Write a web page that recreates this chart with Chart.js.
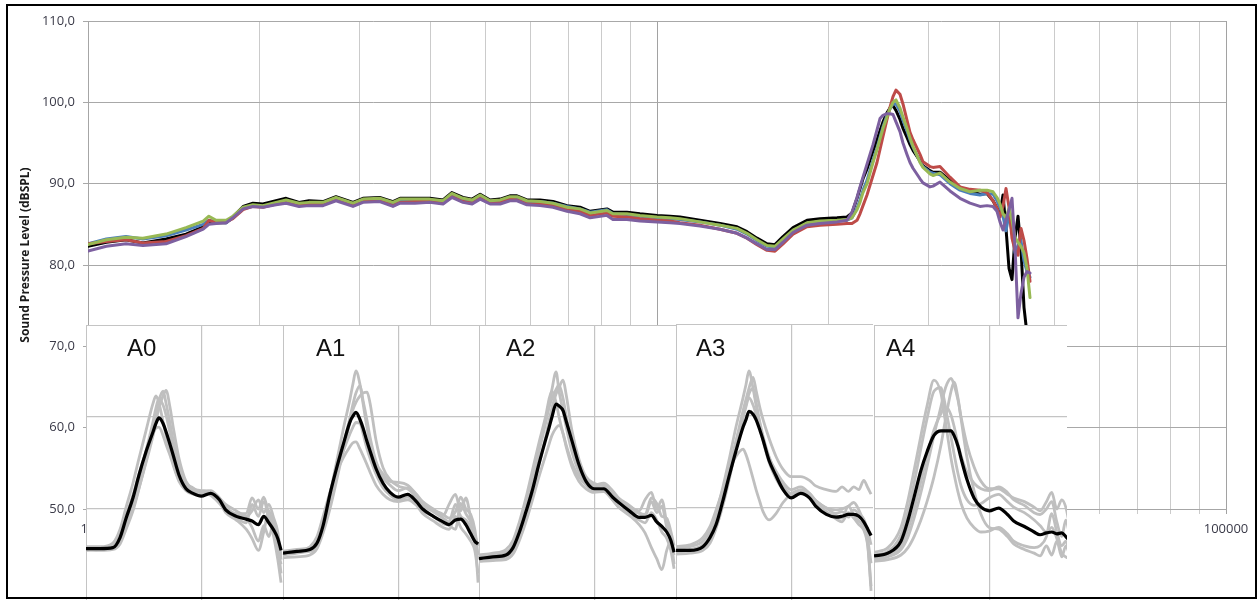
<!DOCTYPE html>
<html>
<head>
<meta charset="utf-8">
<script src="https://cdn.jsdelivr.net/npm/chart.js@4.4.1/dist/chart.umd.min.js"></script>
<style>
  html, body { margin: 0; padding: 0; background: #fff; width: 1259px; height: 600px; overflow: hidden; }
  #main { position: absolute; left: 0; top: 0; }
  .panel { position: absolute; height: 276px; overflow: hidden; background: #fff; }
  .panel canvas { position: absolute; left: 0; top: 0; }
  #frame { position: absolute; left: 6px; top: 4px; width: 1251px; height: 595px; border: 2px solid #000; box-sizing: border-box; pointer-events: none; }
</style>
</head>
<body>
<canvas id="main" width="1259" height="600"></canvas>
<div class="panel" style="left:86px;top:325px;width:197px"><canvas id="p0" width="197" height="276"></canvas></div>
<div class="panel" style="left:283px;top:325px;width:196px"><canvas id="p1" width="197" height="276"></canvas></div>
<div class="panel" style="left:479px;top:325px;width:197px"><canvas id="p2" width="197" height="276"></canvas></div>
<div class="panel" style="left:676px;top:324px;width:198px"><canvas id="p3" width="197" height="276"></canvas></div>
<div class="panel" style="left:874px;top:325px;width:193px"><canvas id="p4" width="197" height="276"></canvas></div>
<div id="frame"></div>
<script>
// ---- Main frequency response (Hz -> dB SPL), five measurements ----
const mainFreq = [
  10, 11.6, 13.6, 15.6, 18.8, 22.1, 25.4, 26.6, 28.2, 30.6,
  32.3, 35.1, 38.0, 41.2, 45.8, 49.7, 55.2, 59.8, 67.0, 74.4,
  85.4, 92.6, 106, 118, 125, 141, 159, 177, 190, 208,
  224, 239, 259, 281, 304, 322, 349, 388, 431, 483,
  536, 582, 667, 700, 784, 871, 1000, 1111, 1204, 1416,
  1665, 1911, 2072, 2246, 2436, 2598, 2773, 3007, 3367, 3741,
  4292, 4654, 4846, 5047, 5171, 5298, 5472, 5744, 5933, 6079,
  6228, 6433, 6591, 6753, 6918, 7146, 7321, 7562, 7750, 7940,
  8403, 8609, 9111, 9335, 9879, 10711, 11614, 12594, 13654, 14452,
  15171, 15670, 16055, 16450, 16854, 17269, 17693, 18128, 18573, 19029,
  19497, 19976, 20467
];
const levelBlack = [
  82.3, 82.8, 83.1, 82.7, 83.2, 83.8, 84.7, 85.4, 85.2, 85.2,
  85.9, 87.2, 87.6, 87.5, 87.9, 88.2, 87.7, 87.9, 87.8, 88.4,
  87.7, 88.2, 88.3, 87.8, 88.2, 88.2, 88.2, 88.0, 88.9, 88.3,
  88.1, 88.7, 88.0, 88.1, 88.5, 88.5, 88.0, 88.0, 87.8, 87.3,
  87.1, 86.6, 86.9, 86.5, 86.5, 86.3, 86.1, 86.0, 85.9, 85.5,
  85.1, 84.7, 84.1, 83.3, 82.6, 82.5, 83.5, 84.6, 85.5, 85.7,
  85.8, 85.9, 86.4, 88.2, 89.4, 90.6, 91.8, 94.0, 95.4, 96.5,
  97.6, 98.7, 99.3, 99.6, 99.0, 97.9, 96.8, 95.7, 94.8, 94.1,
  92.8, 92.2, 91.6, 91.4, 91.4, 90.4, 89.4, 89.0, 88.7, 88.8,
  87.9, 87.0, 86.3, 88.6, 84.5, 79.6, 78.2, 83.3, 86.0, 82.0,
  74.8, 71.5, 68.0
];
const levelBlue = [
  82.6, 83.2, 83.5, 83.2, 83.6, 84.3, 85.0, 85.5, 85.3, 85.2,
  85.8, 86.9, 87.3, 87.2, 87.6, 87.9, 87.5, 87.6, 87.6, 88.1,
  87.5, 88.0, 88.0, 87.6, 87.9, 87.9, 87.9, 87.8, 88.6, 88.0,
  87.9, 88.4, 87.8, 87.9, 88.3, 88.3, 87.8, 87.8, 87.6, 87.2,
  86.9, 86.5, 86.8, 86.3, 86.2, 86.0, 85.8, 85.7, 85.6, 85.3,
  84.9, 84.4, 83.8, 83.0, 82.3, 82.2, 83.1, 84.2, 85.1, 85.3,
  85.4, 85.5, 85.8, 87.0, 88.0, 89.2, 90.4, 92.9, 94.4, 95.7,
  97.0, 98.4, 99.2, 99.8, 99.8, 98.9, 97.8, 96.5, 95.4, 94.5,
  92.7, 92.1, 91.4, 91.3, 91.1, 90.0, 89.2, 88.8, 88.6, 88.8,
  88.7, 87.9, 87.0, 86.0, 84.2, 86.2, 84.0, 81.5, 82.4, 83.0,
  80.5, 79.2, 78.5
];
const levelRed = [
  82.6, 82.9, 83.1, 82.7, 82.9, 83.6, 84.5, 85.5, 85.2, 85.3,
  85.7, 86.8, 87.2, 87.1, 87.5, 87.8, 87.3, 87.5, 87.4, 88.0,
  87.3, 87.8, 87.9, 87.3, 87.7, 87.8, 87.8, 87.6, 88.4, 87.8,
  87.6, 88.2, 87.6, 87.7, 88.1, 88.0, 87.5, 87.5, 87.3, 86.8,
  86.6, 86.1, 86.4, 86.0, 85.9, 85.7, 85.5, 85.4, 85.2, 84.9,
  84.4, 83.9, 83.3, 82.5, 81.8, 81.7, 82.6, 83.8, 84.7, 84.9,
  85.0, 85.1, 85.1, 85.5, 86.3, 87.3, 88.6, 91.0, 92.6, 94.2,
  95.8, 97.9, 99.4, 100.7, 101.5, 101.0, 99.8, 97.8, 96.3, 95.4,
  93.6, 92.7, 92.1, 92.0, 92.1, 90.8, 89.6, 89.3, 89.2, 88.9,
  87.9, 87.0, 85.9, 87.2, 89.4, 87.1, 83.3, 81.8, 81.2, 84.5,
  83.0, 80.8, 78.0
];
const levelGreen = [
  82.5, 83.1, 83.4, 83.3, 83.8, 84.6, 85.4, 86.0, 85.5, 85.5,
  86.0, 87.1, 87.4, 87.3, 87.7, 88.0, 87.6, 87.7, 87.7, 88.3,
  87.6, 88.1, 88.2, 87.7, 88.1, 88.1, 88.1, 87.9, 88.8, 88.2,
  88.0, 88.6, 87.9, 88.0, 88.4, 88.4, 87.9, 87.8, 87.6, 87.1,
  86.9, 86.4, 86.7, 86.3, 86.3, 86.1, 85.9, 85.8, 85.7, 85.3,
  84.9, 84.5, 83.9, 83.1, 82.4, 82.3, 83.2, 84.3, 85.2, 85.4,
  85.5, 85.6, 85.8, 86.8, 87.7, 88.9, 90.0, 92.6, 94.2, 95.5,
  96.8, 98.2, 99.2, 100.0, 100.3, 99.3, 98.2, 96.8, 95.6, 94.6,
  92.6, 92.0, 91.2, 91.0, 91.3, 90.2, 89.4, 89.0, 89.2, 89.2,
  89.0, 88.3, 87.5, 86.3, 85.8, 87.0, 85.5, 83.4, 82.8, 82.3,
  81.5, 79.6, 76.0
];
const levelPurple = [
  81.7, 82.3, 82.6, 82.4, 82.6, 83.5, 84.4, 85.0, 85.1, 85.2,
  85.8, 86.9, 87.2, 87.1, 87.4, 87.6, 87.2, 87.3, 87.3, 87.9,
  87.2, 87.7, 87.8, 87.2, 87.6, 87.6, 87.7, 87.5, 88.3, 87.7,
  87.5, 88.1, 87.5, 87.5, 87.9, 87.9, 87.4, 87.3, 87.1, 86.6,
  86.3, 85.8, 86.1, 85.6, 85.6, 85.4, 85.3, 85.2, 85.1, 84.8,
  84.4, 83.9, 83.3, 82.6, 81.9, 81.9, 82.8, 84.0, 84.9, 85.1,
  85.3, 85.5, 86.5, 88.3, 89.6, 90.8, 92.4, 94.8, 96.6, 98.0,
  98.4, 98.6, 98.6, 98.5, 97.6, 96.4, 95.0, 93.6, 92.6, 91.9,
  90.6, 90.1, 89.6, 89.7, 90.2, 89.1, 88.2, 87.6, 87.2, 87.3,
  87.2, 86.6, 85.3, 84.3, 85.5, 86.8, 88.2, 82.2, 73.5, 76.5,
  78.5, 79.2, 79.0
];

// Axis grid positions and labels
const xGridFreqs = [10, 40, 90, 160, 250, 360, 490, 640, 810, 1000,
                    4000, 9000, 16000, 25000, 36000, 49000, 64000, 81000, 100000];
const xLabelFreqs = [10, 100000];
const yAxisTitle = 'Sound Pressure Level (dBSPL)';

// ---- Insets: 4-19 kHz detail per position, single runs (grey) and mean (black) ----
const insetFreq = [
  3940, 4410, 4900, 5190, 5450, 5760, 6050, 6400, 6780, 6940,
  7110, 7350, 7530, 7780, 7970, 8360, 8850, 9370, 10000, 10800,
  11600, 12200, 13300, 14400, 15100, 15900, 16600, 17300, 18000, 18600,
  19100
];
const insetGridFreqs = [3940, 10000];
const insetGridLevels = [50, 60, 70];
const panelNames = ['A0', 'A1', 'A2', 'A3', 'A4'];

const a0Mean = [45.7, 45.7, 45.8, 46.9, 49.0, 51.2, 53.7, 56.2, 58.4, 59.3, 59.9, 59.3, 58.4, 57.0, 55.9, 53.7, 52.2, 51.7, 51.4, 51.7, 51.0, 49.9, 49.2, 48.9, 48.7, 48.3, 49.2, 48.5, 47.7, 46.8, 45.5];
const a0Runs = [
  [45.5, 45.6, 45.9, 46.5, 48.0, 50.0, 52.3, 55.0, 58.0, 59.5, 61.0, 62.3, 62.9, 61.0, 59.0, 55.5, 53.0, 52.2, 52.0, 51.9, 51.0, 50.2, 49.5, 49.5, 51.2, 50.0, 51.3, 49.5, 48.5, 46.0, 43.0],
  [45.9, 45.9, 46.3, 47.8, 50.2, 52.8, 55.5, 58.5, 61.5, 62.3, 61.5, 59.5, 58.0, 56.3, 55.0, 53.2, 52.3, 52.0, 51.8, 51.5, 50.6, 49.8, 49.0, 48.5, 50.5, 49.2, 50.8, 49.0, 47.0, 44.5, 42.0],
  [45.6, 45.5, 45.6, 46.2, 47.8, 49.8, 52.2, 55.2, 58.5, 60.2, 61.8, 62.8, 61.5, 59.3, 57.5, 54.5, 52.8, 52.3, 51.8, 52.0, 51.2, 50.5, 49.8, 49.0, 48.0, 46.5, 48.2, 47.0, 48.5, 45.5, 44.0],
  [45.8, 45.8, 46.1, 47.2, 49.3, 51.5, 53.8, 56.2, 58.2, 58.8, 58.9, 58.0, 57.0, 55.8, 54.8, 53.0, 52.0, 51.6, 51.5, 51.6, 50.8, 49.6, 48.8, 47.8, 46.8, 45.5, 47.5, 49.8, 47.5, 46.5, 45.0],
  [45.6, 45.7, 45.8, 46.4, 48.4, 50.8, 53.2, 56.3, 59.5, 61.0, 62.0, 61.3, 60.2, 58.2, 56.8, 54.2, 52.6, 52.0, 51.7, 51.8, 51.2, 50.0, 49.4, 49.2, 49.8, 51.0, 49.6, 50.5, 49.0, 47.5, 44.5]
];

const a1Mean = [45.2, 45.4, 45.6, 46.3, 48.2, 51.6, 54.2, 56.9, 59.5, 60.1, 60.5, 59.7, 58.8, 57.3, 56.3, 54.4, 52.8, 51.8, 51.3, 51.6, 50.8, 50.0, 49.2, 48.6, 48.3, 48.8, 48.9, 48.3, 47.3, 46.5, 46.2];
const a1Runs = [
  [45.0, 45.2, 45.6, 46.5, 48.6, 51.6, 54.8, 58.5, 62.0, 63.6, 65.0, 63.5, 61.5, 58.8, 57.2, 55.0, 53.8, 53.0, 52.9, 52.6, 51.6, 50.8, 50.0, 49.3, 50.5, 51.6, 49.8, 51.2, 49.0, 47.0, 42.0],
  [44.7, 44.8, 45.0, 45.7, 47.4, 50.0, 52.8, 56.2, 59.5, 60.8, 61.6, 62.3, 62.6, 62.7, 61.5, 57.5, 54.5, 53.2, 52.5, 52.2, 51.3, 50.4, 49.7, 49.0, 48.6, 50.5, 49.2, 48.8, 48.0, 46.3, 44.5],
  [45.3, 45.5, 45.9, 47.0, 49.2, 51.8, 53.8, 55.5, 56.8, 57.2, 57.3, 56.5, 55.8, 54.8, 54.0, 52.6, 51.6, 51.0, 50.8, 51.0, 50.4, 49.5, 48.7, 48.0, 47.8, 49.2, 48.0, 47.3, 46.5, 45.5, 43.0],
  [45.4, 45.6, 45.8, 46.6, 48.8, 51.4, 53.9, 56.2, 58.2, 58.9, 59.4, 59.3, 58.2, 56.5, 55.5, 53.8, 52.3, 51.5, 51.0, 51.3, 50.6, 49.8, 49.2, 48.4, 48.2, 47.8, 50.6, 49.5, 48.6, 47.2, 46.0],
  [45.1, 45.3, 45.4, 46.0, 47.9, 50.6, 53.4, 56.8, 60.0, 61.4, 62.6, 63.4, 61.8, 59.6, 57.8, 55.2, 53.4, 52.6, 52.0, 52.3, 51.2, 50.6, 49.9, 49.4, 49.0, 49.7, 51.3, 50.0, 49.4, 47.8, 45.0]
];

const a2Mean = [44.6, 44.8, 45.0, 45.8, 47.4, 49.7, 51.9, 54.9, 57.7, 58.8, 60.0, 61.4, 61.2, 60.7, 59.6, 57.4, 54.8, 53.0, 52.2, 52.2, 51.3, 50.7, 49.8, 49.1, 49.1, 49.3, 48.6, 48.1, 47.5, 46.6, 45.3];
const a2Runs = [
  [44.9, 45.1, 45.3, 46.0, 47.6, 50.2, 52.8, 56.2, 59.6, 61.3, 63.0, 64.9, 62.8, 60.6, 59.0, 56.2, 54.0, 52.8, 52.5, 52.6, 51.8, 51.0, 50.3, 49.8, 51.0, 51.8, 50.0, 51.0, 48.5, 47.0, 44.0],
  [44.4, 44.5, 44.7, 45.4, 46.9, 49.2, 51.6, 54.8, 58.0, 59.6, 61.0, 62.5, 63.2, 64.0, 62.5, 58.5, 55.4, 53.5, 52.8, 52.5, 51.6, 50.8, 50.0, 49.5, 49.2, 50.8, 49.6, 50.3, 48.0, 46.5, 45.0],
  [45.0, 45.2, 45.6, 46.6, 48.5, 51.2, 54.0, 57.2, 60.3, 61.9, 62.8, 61.6, 60.0, 58.2, 57.0, 55.0, 53.5, 52.6, 52.0, 52.0, 51.0, 50.2, 49.5, 48.8, 48.5, 49.6, 48.8, 47.5, 46.8, 45.5, 43.5],
  [44.3, 44.4, 44.5, 45.1, 46.5, 48.6, 50.8, 53.5, 56.0, 57.0, 58.0, 58.8, 59.1, 58.2, 56.8, 54.6, 53.0, 52.2, 51.8, 51.9, 51.0, 50.2, 49.3, 48.3, 47.4, 45.8, 44.6, 43.4, 45.5, 46.5, 45.5],
  [44.7, 44.9, 45.2, 46.1, 47.8, 50.4, 53.2, 56.6, 59.8, 61.0, 62.0, 63.0, 63.5, 62.0, 60.2, 57.0, 54.6, 53.2, 52.6, 52.8, 52.0, 51.2, 50.4, 49.6, 49.4, 51.2, 50.6, 49.2, 49.0, 47.6, 46.0]
];

const a3Mean = [45.4, 45.4, 45.8, 46.8, 48.2, 50.8, 53.4, 56.2, 58.8, 59.6, 60.5, 60.2, 59.6, 58.4, 57.4, 55.2, 53.5, 52.0, 51.1, 51.6, 51.1, 50.2, 49.3, 49.0, 49.1, 49.3, 49.3, 49.1, 48.5, 47.7, 47.0];
const a3Runs = [
  [45.6, 45.8, 46.4, 47.6, 49.5, 52.3, 55.2, 58.8, 62.0, 63.4, 64.9, 63.0, 61.2, 59.0, 57.6, 55.5, 54.0, 52.8, 52.0, 52.3, 51.6, 50.8, 50.0, 49.8, 49.9, 50.2, 50.6, 49.8, 48.4, 46.0, 41.5],
  [45.2, 45.4, 45.7, 46.7, 48.4, 51.0, 53.8, 57.2, 60.6, 61.8, 63.0, 64.2, 62.8, 60.8, 59.6, 57.6, 55.6, 54.2, 53.4, 53.4, 53.0, 52.4, 52.0, 51.8, 52.3, 51.8, 52.3, 52.0, 53.0, 52.2, 51.5],
  [45.8, 46.0, 46.8, 48.0, 49.8, 52.0, 54.0, 55.6, 56.4, 55.8, 54.8, 53.2, 52.0, 50.6, 49.6, 48.7, 49.4, 50.6, 51.5, 51.9, 51.2, 50.3, 49.5, 49.1, 48.9, 50.2, 49.2, 48.6, 48.0, 46.5, 44.0],
  [45.0, 45.1, 45.4, 46.2, 47.8, 50.3, 53.0, 56.5, 59.8, 61.0, 62.0, 61.2, 60.2, 58.6, 57.3, 55.0, 53.2, 52.0, 51.4, 51.8, 51.4, 50.6, 49.6, 48.8, 48.5, 49.5, 48.9, 48.2, 47.6, 45.8, 41.0],
  [45.3, 45.5, 46.0, 47.0, 48.9, 51.5, 54.2, 57.2, 60.0, 61.2, 62.4, 63.0, 61.5, 59.2, 57.8, 55.6, 53.8, 52.4, 51.6, 52.0, 51.6, 50.8, 50.0, 49.4, 49.6, 49.0, 49.8, 49.4, 48.8, 47.5, 46.0]
];

const a4Mean = [44.9, 45.2, 46.5, 48.8, 51.3, 54.2, 56.2, 58.0, 58.5, 58.5, 58.5, 58.5, 58.0, 56.8, 55.5, 53.2, 51.2, 50.2, 49.8, 50.1, 49.4, 48.7, 48.1, 47.5, 47.2, 47.4, 47.5, 47.3, 47.4, 47.0, 46.6];
const a4Runs = [
  [45.3, 45.8, 48.0, 51.0, 54.2, 58.0, 61.2, 64.0, 62.5, 60.5, 58.4, 55.5, 53.8, 51.8, 50.6, 49.0, 48.0, 47.5, 47.6, 48.0, 47.3, 46.5, 46.0, 45.8, 46.0, 47.0, 49.5, 47.5, 46.0, 46.5, 45.5],
  [44.5, 44.8, 45.6, 47.0, 49.0, 51.8, 54.6, 58.0, 61.2, 62.6, 63.6, 64.2, 63.5, 61.8, 60.0, 57.0, 54.6, 53.0, 52.2, 52.2, 51.6, 51.2, 50.8, 50.2, 49.8, 50.8, 51.8, 50.0, 51.0, 50.2, 48.5],
  [45.0, 45.4, 47.2, 49.8, 52.8, 56.6, 59.8, 62.8, 63.2, 62.0, 60.2, 57.8, 56.0, 53.8, 52.5, 51.0, 50.4, 50.6, 51.2, 51.6, 50.8, 50.2, 49.6, 48.8, 48.2, 47.5, 48.0, 46.8, 45.2, 44.8, 44.6],
  [44.3, 44.5, 45.0, 45.8, 47.0, 48.8, 50.8, 53.5, 57.0, 58.8, 60.6, 62.8, 63.8, 62.0, 59.8, 55.6, 52.0, 49.4, 48.0, 47.8, 47.0, 46.2, 45.6, 45.2, 44.9, 46.0, 45.0, 46.5, 44.8, 46.0, 45.2],
  [44.7, 45.0, 46.0, 47.8, 50.0, 53.0, 55.8, 58.6, 60.4, 61.0, 61.0, 60.2, 59.0, 57.0, 55.8, 54.0, 52.8, 52.2, 52.0, 52.4, 51.8, 51.0, 50.4, 49.6, 49.4, 50.0, 50.8, 48.6, 47.0, 48.8, 47.5]
];

const panelMeans = [a0Mean, a1Mean, a2Mean, a3Mean, a4Mean];
const panelRuns = [a0Runs, a1Runs, a2Runs, a3Runs, a4Runs];

// ---- helpers ----
const toPoints = (xs, ys) => xs.map((x, i) => ({ x: x, y: ys[i] }));
const tickFont = { family: '"Open Sans", "Liberation Sans", sans-serif', size: 13 };
const tickColor = '#3a3a48';

// rotated y-axis title, placed in the left margin
const yTitlePlugin = {
  id: 'yTitle',
  afterDraw(chart, args, opts) {
    const ctx = chart.ctx;
    ctx.save();
    ctx.translate(opts.x, opts.y);
    ctx.rotate(-Math.PI / 2);
    ctx.font = 'bold 12px "Open Sans", "Liberation Sans", sans-serif';
    ctx.fillStyle = '#1a1a1a';
    ctx.textAlign = 'center';
    ctx.textBaseline = 'middle';
    ctx.fillText(opts.text, 0, 0);
    ctx.restore();
  }
};

const lineSet = (label, values, color, order) => ({
  label: label,
  data: toPoints(mainFreq, values),
  borderColor: color,
  backgroundColor: color,
  borderWidth: 3,
  pointRadius: 0,
  tension: 0,
  borderJoinStyle: 'round',
  borderCapStyle: 'round',
  order: order
});

new Chart(document.getElementById('main'), {
  type: 'line',
  data: {
    datasets: [
      lineSet('Purple', levelPurple, '#7d60a0', 0),
      lineSet('Green', levelGreen, '#98b954', 1),
      lineSet('Red', levelRed, '#be4b48', 2),
      lineSet('Blue', levelBlue, '#4a7ebb', 3),
      lineSet('Black', levelBlack, '#000000', 4)
    ]
  },
  options: {
    responsive: false,
    animation: false,
    events: [],
    layout: { padding: { left: 0, right: 33, top: 21, bottom: 0 } },
    plugins: {
      legend: { display: false },
      tooltip: { enabled: false },
      yTitle: { text: yAxisTitle, x: 26, y: 255 }
    },
    scales: {
      x: {
        type: 'logarithmic',
        min: 10,
        max: 100000,
        afterBuildTicks: (s) => { s.ticks = xGridFreqs.map(v => ({ value: v })); },
        afterFit: (s) => { s.height = 91; },
        ticks: {
          autoSkip: false,
          maxRotation: 0,
          padding: 7,
          color: tickColor,
          font: tickFont,
          callback: (v) => xLabelFreqs.includes(v) ? String(v) : ''
        },
        grid: {
          color: (c) => (c.tick && (c.tick.value === 1000 || c.tick.value === 100000)) ? '#a2a2a2' : '#cbcbcb',
          lineWidth: 1,
          tickLength: 5
        },
        border: { color: '#a6a6a6' }
      },
      y: {
        min: 50,
        max: 110,
        afterFit: (s) => { s.width = 88; },
        ticks: {
          stepSize: 10,
          padding: 8,
          color: tickColor,
          font: tickFont,
          callback: (v) => v.toFixed(1).replace('.', ',')
        },
        grid: { color: '#a8a8a8', lineWidth: 1, tickLength: 5 },
        border: { color: '#a6a6a6' }
      }
    }
  },
  plugins: [yTitlePlugin]
});

// panel caption inside each inset
const captionPlugin = {
  id: 'caption',
  afterDatasetsDraw(chart, args, opts) {
    const ctx = chart.ctx;
    ctx.save();
    ctx.font = '24px "Liberation Sans", Arial, sans-serif';
    ctx.fillStyle = '#111';
    ctx.textBaseline = 'alphabetic';
    ctx.fillText(opts.text, opts.x, opts.y);
    ctx.restore();
  }
};

const captionPos = [[41, 31], [33, 31], [27, 31], [20, 32], [12, 31]];

panelNames.forEach((name, k) => {
  const grey = panelRuns[k].map((run, j) => ({
    label: name + ' run ' + (j + 1),
    data: toPoints(insetFreq, run),
    borderColor: '#bfbfbf',
    borderWidth: 2.8,
    pointRadius: 0,
    cubicInterpolationMode: 'monotone',
    borderJoinStyle: 'round',
    order: 1
  }));
  const mean = {
    label: name + ' mean',
    data: toPoints(insetFreq, panelMeans[k]),
    borderColor: '#000000',
    borderWidth: 3.2,
    pointRadius: 0,
    cubicInterpolationMode: 'monotone',
    borderJoinStyle: 'round',
    order: 0
  };
  const edge = (c, lo) => (c.tick && c.tick.value === lo) ? 2 : 1.2;
  new Chart(document.getElementById('p' + k), {
    type: 'line',
    data: { datasets: [mean].concat(grey) },
    options: {
      responsive: false,
      animation: false,
      events: [],
      layout: { padding: 0 },
      plugins: {
        legend: { display: false },
        tooltip: { enabled: false },
        caption: { text: name, x: captionPos[k][0], y: captionPos[k][1] }
      },
      scales: {
        x: {
          type: 'logarithmic',
          min: 3940,
          max: 19400,
          afterBuildTicks: (s) => { s.ticks = insetGridFreqs.map(v => ({ value: v })); },
          afterFit: (s) => { s.height = 0; },
          ticks: { display: false },
          grid: { color: '#c4c4c4', lineWidth: (c) => edge(c, 3940), drawTicks: false },
          border: { display: false }
        },
        y: {
          min: 40,
          max: 70,
          afterBuildTicks: (s) => { s.ticks = insetGridLevels.map(v => ({ value: v })); },
          afterFit: (s) => { s.width = 0; },
          ticks: { display: false },
          grid: { color: '#c4c4c4', lineWidth: (c) => edge(c, 70), drawTicks: false },
          border: { display: false }
        }
      }
    },
    plugins: [captionPlugin]
  });
});
</script>
</body>
</html>
